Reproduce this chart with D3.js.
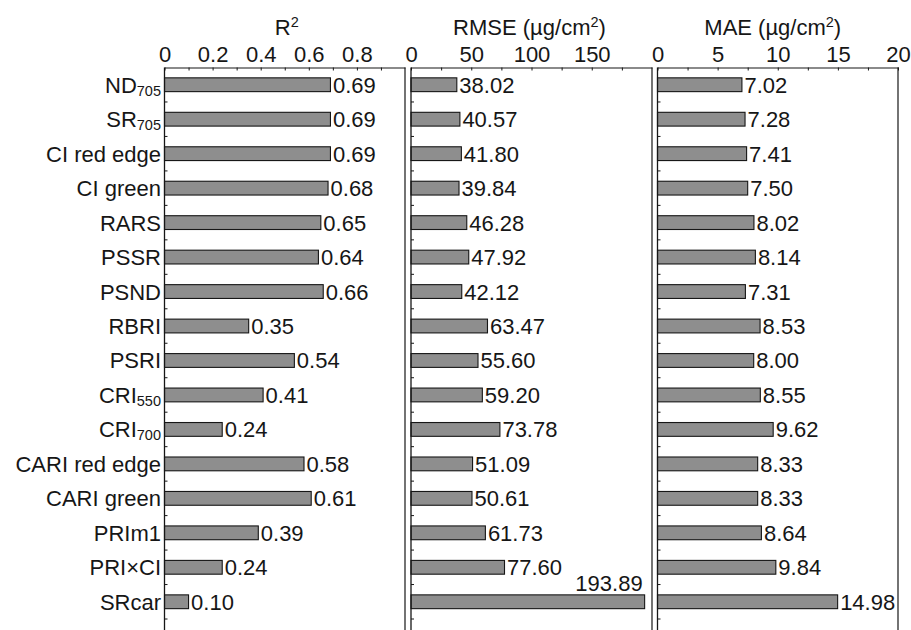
<!DOCTYPE html>
<html>
<head>
<meta charset="utf-8">
<script src="https://cdn.jsdelivr.net/npm/d3@7"></script>
<style>
  html, body { margin: 0; padding: 0; background: #fff; }
  svg { display: block; font-family: "Liberation Sans", Arial, Helvetica, sans-serif; }
</style>
</head>
<body>
<svg id="chart" width="911" height="630"></svg>
<script>
// Spectral indices (name + optional subscript)
const indexNames = ["ND", "SR", "CI red edge", "CI green", "RARS", "PSSR", "PSND", "RBRI",
  "PSRI", "CRI", "CRI", "CARI red edge", "CARI green", "PRIm1", "PRI×CI", "SRcar"];
const indexSubs = ["705", "705", "", "", "", "", "", "", "", "550", "700", "", "", "", "", ""];

// Model performance per index
const r2Values   = [0.69, 0.69, 0.69, 0.68, 0.65, 0.64, 0.66, 0.35, 0.54, 0.41, 0.24, 0.58, 0.61, 0.39, 0.24, 0.10];
const rmseValues = [38.02, 40.57, 41.80, 39.84, 46.28, 47.92, 42.12, 63.47, 55.60, 59.20, 73.78, 51.09, 50.61, 61.73, 77.60, 193.89];
const maeValues  = [7.02, 7.28, 7.41, 7.50, 8.02, 8.14, 7.31, 8.53, 8.00, 8.55, 9.62, 8.33, 8.33, 8.64, 9.84, 14.98];

// Axis tick values (labelled majors and unlabelled minors)
const r2Ticks = [0, 0.2, 0.4, 0.6, 0.8];
const r2Minor = [0.1, 0.3, 0.5, 0.7, 0.9];
const rmseTicks = [0, 50, 100, 150];
const rmseMinor = [25, 75, 125, 175];
const maeTicks = [0, 5, 10, 15, 20];
const maeMinor = [2.5, 7.5, 12.5, 17.5];

const svg = d3.select("#chart");
const ink = "#161616";
const barFill = "#8e8e8e";
const fontSize = 22;
const subSize = 14.5;

const keys = indexNames.map((d, i) => i);
const plotTop = 67.5, plotBottom = 619, frameBottom = 632;

const y = d3.scaleBand().domain(keys).range([plotTop, plotBottom]).paddingInner(0.6).paddingOuter(0.3);
const step = y.step();

const panels = [
  { values: r2Values, domain: [0, 1], range: [164.5, 405], ticks: r2Ticks, minor: r2Minor,
    fmt: d3.format(".1~f"), vfmt: d3.format(".2f"), title: ["R", "2", ""], titleShift: 2 },
  { values: rmseValues, domain: [0, 200], range: [411, 652], ticks: rmseTicks, minor: rmseMinor,
    fmt: d3.format("d"), vfmt: d3.format(".2f"), title: ["RMSE (µg/cm", "2", ")"], titleShift: -2 },
  { values: maeValues, domain: [0, 20], range: [657.5, 898], ticks: maeTicks, minor: maeMinor,
    fmt: d3.format("d"), vfmt: d3.format(".2f"), title: ["MAE (µg/cm", "2", ")"], titleShift: -5 }
];

panels.forEach((p, pi) => {
  const x = d3.scaleLinear().domain(p.domain).range(p.range);
  const g = svg.append("g");

  // bars
  g.selectAll("rect.bar").data(p.values).join("rect")
    .attr("class", "bar")
    .attr("x", x(0))
    .attr("y", (d, i) => y(i))
    .attr("width", d => x(d) - x(0))
    .attr("height", y.bandwidth())
    .attr("fill", barFill)
    .attr("stroke", ink)
    .attr("stroke-width", 1.1);

  // value labels (placed above the bar when there is no room to its right)
  g.selectAll("text.val").data(p.values).join("text")
    .attr("class", "val")
    .attr("font-size", fontSize)
    .attr("fill", ink)
    .each(function (d, i) {
      const t = d3.select(this).text(p.vfmt(d));
      const cy = y(i) + y.bandwidth() / 2;
      const w = this.getComputedTextLength();
      if (x(d) + 3 + w > p.range[1] + 8) {
        t.attr("x", x(d) - 2).attr("y", y(i) - 4).attr("text-anchor", "end");
      } else {
        t.attr("x", x(d) + 2.5).attr("y", cy + 8).attr("text-anchor", "start");
      }
    });

  // top axis: minor ticks
  g.append("g").attr("transform", `translate(0,${plotTop})`)
    .call(d3.axisTop(x).tickValues(p.minor).tickSizeInner(-3).tickSizeOuter(0).tickFormat(""))
    .call(a => a.select(".domain").remove())
    .call(a => a.selectAll("line").attr("stroke", ink));

  // top axis: labelled ticks
  g.append("g").attr("transform", `translate(0,${plotTop})`)
    .call(d3.axisTop(x).tickValues(p.ticks).tickSizeInner(-3).tickSizeOuter(0).tickPadding(6).tickFormat(p.fmt))
    .call(a => a.select(".domain").attr("stroke", ink).attr("stroke-width", 1.2))
    .call(a => a.selectAll("line").attr("stroke", ink))
    .call(a => a.selectAll("text").attr("font-size", fontSize).attr("fill", ink)
      .attr("font-family", "Liberation Sans, Arial, sans-serif"));

  // left axis and right border
  g.append("line").attr("x1", p.range[0]).attr("x2", p.range[0]).attr("y1", plotTop).attr("y2", frameBottom)
    .attr("stroke", ink).attr("stroke-width", 1.3);
  g.append("line").attr("x1", p.range[1]).attr("x2", p.range[1]).attr("y1", plotTop).attr("y2", frameBottom)
    .attr("stroke", ink).attr("stroke-width", 1.2);

  // category boundary ticks on left axis
  const bounds = d3.range(1, keys.length + 1).map(k => plotTop + k * step);
  g.selectAll("line.ytick").data(bounds).join("line")
    .attr("class", "ytick")
    .attr("x1", p.range[0]).attr("x2", p.range[0] + 3)
    .attr("y1", d => d).attr("y2", d => d)
    .attr("stroke", ink).attr("stroke-width", 1);

  // panel title with superscript
  const title = g.append("text")
    .attr("x", (p.range[0] + p.range[1]) / 2 + p.titleShift)
    .attr("y", 35)
    .attr("text-anchor", "middle")
    .attr("font-size", fontSize)
    .attr("fill", ink);
  title.append("tspan").text(p.title[0]);
  title.append("tspan").text(p.title[1]).attr("font-size", subSize).attr("dy", -8);
  if (p.title[2]) title.append("tspan").text(p.title[2]).attr("dy", 8);
});

// category labels
const labels = svg.append("g");
keys.forEach(i => {
  const t = labels.append("text")
    .attr("x", 161)
    .attr("y", y(i) + y.bandwidth() / 2 + 8)
    .attr("text-anchor", "end")
    .attr("font-size", fontSize)
    .attr("fill", ink);
  t.append("tspan").text(indexNames[i]);
  if (indexSubs[i]) t.append("tspan").text(indexSubs[i]).attr("font-size", subSize).attr("dy", 3);
});
</script>
</body>
</html>
